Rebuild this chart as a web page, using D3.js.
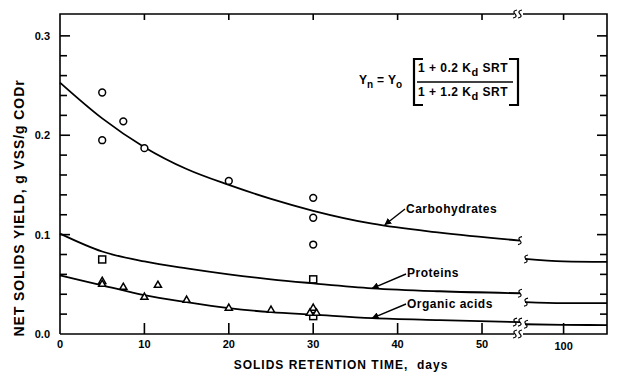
<!DOCTYPE html>
<html>
<head>
<meta charset="utf-8">
<script src="https://cdn.jsdelivr.net/npm/d3@7"></script>
<style>
  body { margin: 0; background: #fff; }
  text { font-family: "Liberation Sans", Arial, sans-serif; font-weight: bold; fill: #000; }
</style>
</head>
<body>
<div id="chart"></div>
<script>
// curve readings (SRT in days, yield) for the left part of the axis
let curveSrt = [0, 5, 10, 15, 20, 25, 30, 37, 45, 54.5];
let carbCurve = [0.253, 0.217, 0.188, 0.166, 0.150, 0.136, 0.124, 0.111, 0.102, 0.094];
let protCurve = [0.101, 0.083, 0.073, 0.066, 0.060, 0.055, 0.051, 0.046, 0.043, 0.041];
let acidCurve = [0.059, 0.049, 0.039, 0.032, 0.026, 0.022, 0.0195, 0.016, 0.014, 0.012];

// right part, past the break
let farSrt = [60, 100, 145];
let carbFar = [0.0755, 0.073, 0.0725];
let protFar = [0.032, 0.031, 0.031];
let acidFar = [0.0098, 0.0092, 0.009];

// measured points
let carbPts = [[5, 0.243], [5, 0.195], [7.5, 0.214], [10, 0.187], [20, 0.154], [30, 0.137], [30, 0.117], [30, 0.090]];
let protPts = [[5, 0.075], [30, 0.055], [30, 0.018]];
let acidPts = [[5, 0.053], [5, 0.050], [7.5, 0.047], [10, 0.037], [11.6, 0.049], [15, 0.034], [20, 0.026], [25, 0.024], [30, 0.026], [29.6, 0.021], [30.4, 0.021]];

let seriesNames = ["Carbohydrates", "Proteins", "Organic acids"];
let xTicks = [0, 10, 20, 30, 40, 50];
let xFarTicks = [100];
let yMajor = [0, 0.1, 0.2, 0.3];
let yMinor = d3.range(0.02, 0.32, 0.02);

let width = 624, height = 376;
let pl = 60, pr = 607, pt = 14, pb = 334;
let breakL = 520, breakR = 525;

let x = d3.scaleLinear().domain([0, 54.5]).range([pl, breakL]),
  x2 = d3.scaleLinear().domain([60, 145]).range([breakR, pr]),
  y = d3.scaleLinear().domain([0, 0.322]).range([pb, pt]);

const svg = d3.select("#chart").append("svg")
  .attr("width", width)
  .attr("height", height);

svg.append("defs").append("marker")
  .attr("id", "head")
  .attr("viewBox", "0 0 10 10")
  .attr("refX", 9).attr("refY", 5)
  .attr("markerWidth", 7).attr("markerHeight", 7)
  .attr("markerUnits", "userSpaceOnUse")
  .attr("orient", "auto")
  .append("path")
  .attr("d", "M0,0 L10,5 L0,10 Z");

let squiggle = function (cx, cy) {
  return "M" + (cx + 2) + "," + (cy - 4) + " Q" + (cx - 3) + "," + (cy - 3) + " " + cx + "," + cy
    + " Q" + (cx + 3) + "," + (cy + 3) + " " + (cx - 2) + "," + (cy + 4);
}

const frame = svg.append("g")
  .attr("fill", "none")
  .attr("stroke", "#000")
  .attr("stroke-width", 1.6);

// frame with gaps for the axis break
frame.append("path").attr("d", "M" + pl + "," + pb + "V" + pt + "H514");
frame.append("path").attr("d", "M523," + pt + "H" + pr + "V" + pb + "H523");
frame.append("path").attr("d", "M514," + pb + "H" + pl);
[515, 520].forEach(function (cx) {
  frame.append("path").attr("d", squiggle(cx, pt)).attr("stroke-width", 1.2);
  frame.append("path").attr("d", squiggle(cx, pb)).attr("stroke-width", 1.2);
});

// ticks, all pointing into the plot
let xTickPos = xTicks.slice(1).map(d => x(d)).concat(xFarTicks.map(d => x2(d)));
let isMajor = d => Math.abs(d * 10 - Math.round(d * 10)) < 1e-6;
let ticks = svg.append("g").attr("stroke", "#000").attr("stroke-width", 1.6);
ticks.selectAll(".xb")
  .data(xTickPos)
  .join("line")
  .attr("class", "xb")
  .attr("x1", d => d).attr("x2", d => d)
  .attr("y1", pb).attr("y2", pb - 11);
ticks.selectAll(".xt")
  .data(xTickPos)
  .join("line")
  .attr("class", "xt")
  .attr("x1", d => d).attr("x2", d => d)
  .attr("y1", pt).attr("y2", pt + 6);
ticks.selectAll(".yl")
  .data(yMinor)
  .join("line")
  .attr("class", "yl")
  .attr("x1", pl).attr("x2", d => pl + (isMajor(d) ? 10 : 7))
  .attr("y1", d => y(d)).attr("y2", d => y(d));
ticks.selectAll(".yr")
  .data(yMinor)
  .join("line")
  .attr("class", "yr")
  .attr("x1", pr).attr("x2", d => pr - (isMajor(d) ? 10 : 7))
  .attr("y1", d => y(d)).attr("y2", d => y(d));

// tick labels
svg.selectAll(".ylab")
  .data(yMajor)
  .join("text")
  .attr("class", "ylab")
  .attr("x", 50)
  .attr("y", d => y(d) + 4)
  .attr("text-anchor", "end")
  .style("font-size", "11px")
  .text(d => d3.format(".1f")(d));
svg.selectAll(".xlab")
  .data(xTicks.map(d => [x(d), d]).concat(xFarTicks.map(d => [x2(d), d])))
  .join("text")
  .attr("class", "xlab")
  .attr("x", d => d[0])
  .attr("y", d => d[1] == 100 ? 350 : 348)
  .attr("text-anchor", "middle")
  .style("font-size", "11px")
  .text(d => d[1]);

// axis titles
svg.append("text")
  .attr("transform", "translate(24," + 208 + ") rotate(-90)")
  .attr("text-anchor", "middle")
  .style("font-size", "14px")
  .style("letter-spacing", "0.9px")
  .text("NET SOLIDS YIELD, g VSS/g CODr");
svg.append("text")
  .attr("x", 341)
  .attr("y", 369)
  .attr("text-anchor", "middle")
  .style("font-size", "12px")
  .style("letter-spacing", "1px")
  .style("white-space", "pre")
  .text("SOLIDS RETENTION TIME,  days");

// curves
let near = [carbCurve, protCurve, acidCurve];
let far = [carbFar, protFar, acidFar];
let lineNear = d3.line().x(d => x(d[0])).y(d => y(d[1])).curve(d3.curveMonotoneX);
let lineFar = d3.line().x(d => x2(d[0])).y(d => y(d[1])).curve(d3.curveMonotoneX);

const curves = svg.append("g")
  .attr("fill", "none")
  .attr("stroke", "#000")
  .attr("stroke-width", 1.8);

near.forEach(function (vals, i) {
  let pts = curveSrt.map((s, j) => [s, vals[j]]);
  curves.append("path").attr("d", lineNear(pts));
  curves.append("path").attr("d", squiggle(x(54.5), y(vals[vals.length - 1]))).attr("stroke-width", 1.2);
  let fpts = farSrt.map((s, j) => [s, far[i][j]]);
  curves.append("path").attr("d", lineFar(fpts));
  curves.append("path").attr("d", squiggle(x2(60) + 1, y(far[i][0]))).attr("stroke-width", 1.2);
});
// second break mark on the organic acids line
curves.append("path").attr("d", squiggle(x(54.5) - 5, y(acidCurve[acidCurve.length - 1]))).attr("stroke-width", 1.2);

// markers
const marks = svg.append("g")
  .attr("fill", "#fff")
  .attr("stroke", "#000")
  .attr("stroke-width", 1.5);
marks.selectAll("circle")
  .data(carbPts)
  .join("circle")
  .attr("cx", d => x(d[0]))
  .attr("cy", d => y(d[1]))
  .attr("r", 3.4);
marks.selectAll("rect")
  .data(protPts)
  .join("rect")
  .attr("x", d => x(d[0]) - 3.5)
  .attr("y", d => y(d[1]) - 3.5)
  .attr("width", 7)
  .attr("height", 7);
marks.selectAll(".tri")
  .data(acidPts)
  .join("path")
  .attr("class", "tri")
  .attr("d", d3.symbol(d3.symbolTriangle, 22))
  .attr("transform", d => "translate(" + x(d[0]) + "," + y(d[1]) + ")");

// series labels with arrows
let labelAt = [[406, 213], [407, 277], [407, 308]];
let arrowFrom = [[405, 209], [406, 274], [406, 304]];
let arrowTo = [[38.5, 0.110], [37, 0.046], [37, 0.016]];
seriesNames.forEach(function (name, i) {
  svg.append("text")
    .attr("x", labelAt[i][0])
    .attr("y", labelAt[i][1])
    .style("font-size", "12px")
    .style("letter-spacing", "0.5px")
    .text(name);
  svg.append("line")
    .attr("x1", arrowFrom[i][0]).attr("y1", arrowFrom[i][1])
    .attr("x2", x(arrowTo[i][0])).attr("y2", y(arrowTo[i][1]))
    .attr("stroke", "#000")
    .attr("stroke-width", 1.4)
    .attr("marker-end", "url(#head)");
});

// equation
const eq = svg.append("g");
let yn = eq.append("text").attr("x", 359).attr("y", 84).style("font-size", "12px");
yn.append("tspan").text("Y");
yn.append("tspan").attr("dy", 4).style("font-size", "10px").text("n");
eq.append("text").attr("x", 377).attr("y", 84).style("font-size", "12px").text("=");
let yo = eq.append("text").attr("x", 388).attr("y", 84).style("font-size", "12px");
yo.append("tspan").text("Y");
yo.append("tspan").attr("dy", 4).style("font-size", "10px").text("o");

let frac = [["1 + 0.2 K", 72], ["1 + 1.2 K", 96]];
frac.forEach(function (f) {
  let t = eq.append("text").attr("x", 418).attr("y", f[1])
    .style("font-size", "12px")
    .style("letter-spacing", "0.5px")
    .style("white-space", "pre");
  t.append("tspan").text(f[0]);
  t.append("tspan").attr("dy", 4).style("font-size", "11px").text("d");
  t.append("tspan").attr("dy", -4).text(" SRT");
});
eq.append("line")
  .attr("x1", 417).attr("x2", 513)
  .attr("y1", 82).attr("y2", 82)
  .attr("stroke", "#000").attr("stroke-width", 1.4);
eq.append("path")
  .attr("d", "M423,59H414V105H423M509,59H518V105H509")
  .attr("fill", "none")
  .attr("stroke", "#000")
  .attr("stroke-width", 2.2);
</script>
</body>
</html>
